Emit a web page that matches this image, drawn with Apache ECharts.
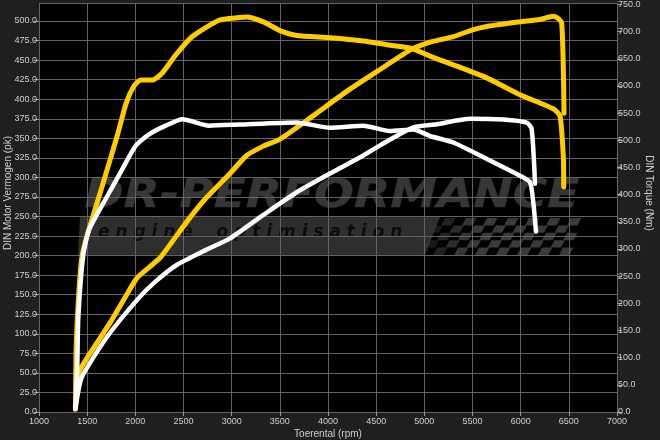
<!DOCTYPE html>
<html><head><meta charset="utf-8">
<script src="https://cdn.jsdelivr.net/npm/echarts@6/dist/echarts.min.js"></script>
<style>html,body{margin:0;padding:0;background:#1f1f1f}#c{width:660px;height:440px}</style>
</head><body><div id="c"></div>
<script>
// ---- data ----
var xTicks = [1000,1500,2000,2500,3000,3500,4000,4500,5000,5500,6000,6500,7000];
// tuned power (pk)
var tunedPowerRpm = [1378,1426,1600,1737,1910,2014,2152,2256,2384,2557,2730,2983,3156,3329,3502,3848,4194,4540,4869,5059,5128,5301,5509,5647,5993,6201,6339,6391,6426,6443,6450];
var tunedPowerPk  = [4,53,88,114,150,171,186,197,218,247,273,305,328,340,349,379,410,438,464,473,475,480,489,493,499,502,506,503,497,438,382];
// tuned torque (Nm)
var tunedTorqueRpm = [1378,1385,1408,1443,1501,1605,1709,1813,1906,1986,2055,2176,2280,2419,2591,2869,3076,3156,3329,3502,3675,4021,4367,4644,4869,5059,5301,5647,5993,6339,6408,6443,6447];
var tunedTorqueNm  = [5,113,204,283,326,386,447,509,569,600,611,611,624,657,691,721,726,727,718,702,693,689,683,675,669,655,639,615,584,558,545,470,414];
// stock power (pk)
var stockPowerRpm = [1378,1443,1700,2030,2211,2429,2730,2983,3329,3675,4021,4367,4540,4886,5128,5474,5820,6063,6114,6149];
var stockPowerPk  = [4,44,95,145,167,188,207,222,252,281,305,328,341,364,368,375,374,370,362,292];
// stock torque (Nm)
var stockTorqueRpm = [1378,1397,1408,1460,1519,1692,1865,2003,2142,2315,2488,2765,3076,3675,4021,4367,4644,4886,5059,5301,5647,5993,6097,6131,6159];
var stockTorqueNm  = [8,82,173,290,335,392,447,490,511,527,539,527,529,533,523,527,517,520,508,496,466,435,423,386,332];

function pairs(xs, ys){ return xs.map(function(x,i){ return [x, ys[i]]; }); }

var chart = echarts.init(document.getElementById('c'), null, {renderer:'canvas'});
var FONT = '"Liberation Sans", Arial, sans-serif';
var LBL = '#cfcfcf';
var GRIDC = '#636363';
var YEL = '#ffcc00';

// watermark pieces
var wm = [];
wm.push({type:'polygon', silent:true, z:0, shape:{points:[[80,217],[440,217],[425,255],[78,255]]}, style:{fill:'#2e2e2e'}});
(function(){
  var rows = 5, cols = 15, x0 = 420, y0 = 218, cw = 10.5, ch = 7.4, sk = 4;
  for (var r=0;r<rows;r++){
    for (var c=0;c<cols;c++){
      if ((r+c)%2) continue;
      var x = x0 + c*cw - r*sk*0.5, y = y0 + r*ch;
      var op = Math.min(1, 0.25 + c/6);
      wm.push({type:'polygon', silent:true, z:0, shape:{points:[[x+sk,y],[x+cw+sk,y],[x+cw,y+ch],[x,y+ch]]}, style:{fill:'#3a3a3a', opacity:op}});
    }
  }
})();
wm.push({type:'text', silent:true, z:0, left:84, top:176, style:{text:'DR-PERFORMANCE', fill:'#363636', stroke:'#1a1a1a', lineWidth:1, font:'italic 900 47px "DejaVu Sans", sans-serif'}, scaleY:0.85});
wm.push({type:'text', silent:true, z:0, left:98, top:224, style:{text:'e n g i n e    o p t i m i s a t i o n', fill:'#0c0c0c', font:'italic bold 17px "DejaVu Sans", sans-serif'}});

var option = {
  backgroundColor:'#1f1f1f',
  animation:false,
  grid:{left:39, right:43, top:0, bottom:28, show:true, backgroundColor:'#000', borderWidth:0},
  graphic: wm.concat([
    {type:'text', rotation:Math.PI/2, position:[8,193], style:{text:'DIN Motor Vermogen (pk)', fill:LBL, font:'10px '+FONT, align:'center', verticalAlign:'middle'}},
    {type:'text', rotation:-Math.PI/2, position:[649,193], style:{text:'DIN Torque (Nm)', fill:LBL, font:'10px '+FONT, align:'center', verticalAlign:'middle'}},
    {type:'text', position:[328,434], style:{text:'Toerental (rpm)', fill:LBL, font:'10px '+FONT, align:'center', verticalAlign:'middle'}}
  ]),
  xAxis:{type:'value', min:xTicks[0], max:xTicks[xTicks.length-1], interval:500,
    axisLine:{show:false}, axisTick:{show:true, length:4, lineStyle:{color:'#9a9a9a'}},
    axisLabel:{color:LBL, fontSize:9, fontFamily:FONT, margin:5, formatter:function(v){ return String(v); }},
    splitLine:{show:true, lineStyle:{color:GRIDC, width:1}}},
  yAxis:[
    {type:'value', min:0, max:522.3, interval:25, position:'left',
      axisLine:{show:false}, axisTick:{show:true, length:5, lineStyle:{color:'#9a9a9a'}},
      axisLabel:{color:LBL, fontSize:9, fontFamily:FONT, margin:2, showMaxLabel:false,
        formatter:function(v){ return (v%25===0)? v.toFixed(1) : ''; }},
      splitLine:{show:true, lineStyle:{color:GRIDC, width:1}}},
    {type:'value', min:0, max:751.7, interval:50, position:'right',
      axisLine:{show:false}, axisTick:{show:true, length:5, lineStyle:{color:'#9a9a9a'}},
      axisLabel:{color:LBL, fontSize:9, fontFamily:FONT, margin:1, showMaxLabel:false,
        formatter:function(v){ return (v%50===0)? v.toFixed(1) : ''; }},
      splitLine:{show:false}}
  ],
  series:[
    {name:'tuned torque', type:'line', yAxisIndex:1, data:pairs(tunedTorqueRpm,tunedTorqueNm), showSymbol:false, smooth:0.2, z:5,
      lineStyle:{color:YEL, width:5, cap:'round', join:'round'}},
    {name:'tuned power', type:'line', yAxisIndex:0, data:pairs(tunedPowerRpm,tunedPowerPk), showSymbol:false, smooth:0.2, z:5,
      lineStyle:{color:YEL, width:5, cap:'round', join:'round'}},
    {name:'stock torque', type:'line', yAxisIndex:1, data:pairs(stockTorqueRpm,stockTorqueNm), showSymbol:false, smooth:0.2, z:6,
      lineStyle:{color:'#ffffff', width:4.5, cap:'round', join:'round'}},
    {name:'stock power', type:'line', yAxisIndex:0, data:pairs(stockPowerRpm,stockPowerPk), showSymbol:false, smooth:0.2, z:6,
      lineStyle:{color:'#ffffff', width:4.5, cap:'round', join:'round'}}
  ]
};
chart.setOption(option);
</script>
</body></html>
